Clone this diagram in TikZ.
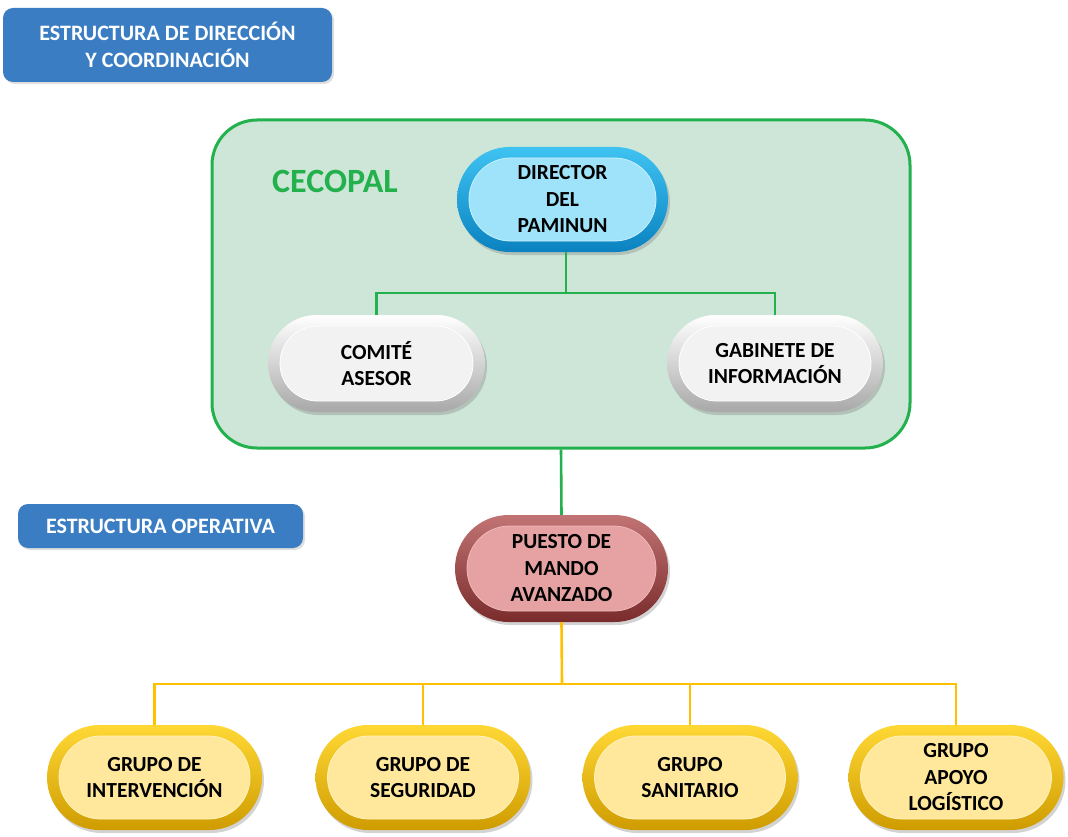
\documentclass[tikz,border=0pt]{standalone}
\usepackage{fontspec}
\setmainfont{Carlito}
\usetikzlibrary{shadows,shapes.misc,calc}
\definecolor{lblue}{HTML}{3A7DC2}
\definecolor{gfill}{HTML}{CDE6D7}
\definecolor{gline}{HTML}{22B14C}
\definecolor{yline}{HTML}{FFC000}
\definecolor{bo1}{HTML}{3FC3F2}\definecolor{bo2}{HTML}{0A82C0}
\definecolor{bi1}{HTML}{9FE3FA}\definecolor{bi2}{HTML}{C9F1FD}
\definecolor{wo1}{HTML}{FFFFFF}\definecolor{wo2}{HTML}{A8A8A8}
\definecolor{wi1}{HTML}{F2F2F2}\definecolor{wi2}{HTML}{FFFFFF}
\definecolor{ro1}{HTML}{C27474}\definecolor{ro2}{HTML}{7A2C2C}
\definecolor{ri1}{HTML}{E6A2A2}\definecolor{ri2}{HTML}{EFB9B9}
\definecolor{yo1}{HTML}{FFD835}\definecolor{yo2}{HTML}{CF9C00}
\definecolor{yi1}{HTML}{FFE89B}\definecolor{yi2}{HTML}{FFF2BF}
\begin{document}
\begin{tikzpicture}[x=1pt,y=-1pt,
  capfont/.style={font=\fontsize{21.5}{26.5}\selectfont\bfseries},
  capsule/.style={rounded rectangle, draw=none, align=center, inner sep=0pt,
     capfont, text=black,
     drop shadow={opacity=0.35, shadow xshift=2pt, shadow yshift=-3pt}},
  outer/.style 2 args={top color=#1, bottom color=#2},
  inner/.style 2 args={path picture={
     \path let \p1=(path picture bounding box.north west),
               \p2=(path picture bounding box.south east),
               \n1={(\y1-\y2)/2-11pt} in
       [draw=#2, fill=#1, line width=0.8pt]
       ({\x1+12pt+\n1}, {\y1-11pt}) -- ({\x2-12pt-\n1}, {\y1-11pt})
       arc[start angle=90, end angle=-90, radius=\n1]
       -- ({\x1+12pt+\n1}, {\y2+11pt})
       arc[start angle=270, end angle=90, radius=\n1] -- cycle;}},
  bluecap/.style={capsule, outer={bo1}{bo2}, inner={bi1}{bi2}},
  whitecap/.style={capsule, outer={wo1}{wo2}, inner={wi1}{wi2}},
  redcap/.style={capsule, outer={ro1}{ro2}, inner={ri1}{ri2}},
  goldcap/.style={capsule, outer={yo1}{yo2}, inner={yi1}{yi2}},
  label/.style={rectangle, rounded corners=10pt, fill=lblue, text=white, align=center,
     font=\fontsize{22}{27}\selectfont\bfseries, inner sep=0pt,
     drop shadow={opacity=0.25, shadow xshift=2pt, shadow yshift=-2pt}},
  gconn/.style={draw=gline, line width=2.6pt},
  yconn/.style={draw=yline, line width=2.6pt}
]
\useasboundingbox (0,0) rectangle (1068,837);

\node[label, minimum width=329pt, minimum height=74pt] (lab1) at (167.5,45) {ESTRUCTURA DE DIRECCIÓN\\Y COORDINACIÓN};

\node[rectangle, rounded corners=45pt, fill=gfill, draw=gline, line width=3pt,
      minimum width=698pt, minimum height=328pt] (cont) at (561,284) {};
\node[text=gline, font=\fontsize{34}{34}\selectfont\bfseries] (ceco) at (335,181) {CECOPAL};

\node[bluecap, minimum width=211pt, minimum height=105pt] (dir) at (562.5,199.5) {DIRECTOR\\DEL\\PAMINUN};
\node[whitecap, minimum width=217pt, minimum height=97pt] (com) at (376.5,363.5) {COMITÉ\\ASESOR};
\node[whitecap, minimum width=216pt, minimum height=97pt] (gab) at (775,363.5) {GABINETE DE\\INFORMACIÓN};

\node[label, minimum width=285pt, minimum height=44pt] (lab2) at (160.5,526) {ESTRUCTURA OPERATIVA};

\node[redcap, minimum width=213pt, minimum height=107pt] (pma) at (561.5,568.5) {PUESTO DE\\MANDO\\AVANZADO};

\node[goldcap, minimum width=215pt, minimum height=105pt] (g1) at (154.5,777.5) {GRUPO DE\\INTERVENCIÓN};
\node[goldcap, minimum width=215pt, minimum height=105pt] (g2) at (423,777.5) {GRUPO DE\\SEGURIDAD};
\node[goldcap, minimum width=215pt, minimum height=105pt] (g3) at (690,777.5) {GRUPO\\SANITARIO};
\node[goldcap, minimum width=215pt, minimum height=105pt] (g4) at (956,777.5) {GRUPO\\APOYO\\LOGÍSTICO};

\coordinate (gbus) at (566,293);
\coordinate (ybus) at (562,684);

\draw[gconn] (dir.south -| gbus) -- (gbus);
\draw[gconn] (com.north) |- (gbus) -| (gab.north);
\draw[gconn] (cont.south) -- (pma.north);
\draw[yconn] (pma.south) -- (ybus);
\draw[yconn] (g1.north) |- (ybus) -| (g4.north);
\draw[yconn] (g2.north) -- (g2.north |- ybus);
\draw[yconn] (g3.north) -- (g3.north |- ybus);
\end{tikzpicture}
\end{document}
